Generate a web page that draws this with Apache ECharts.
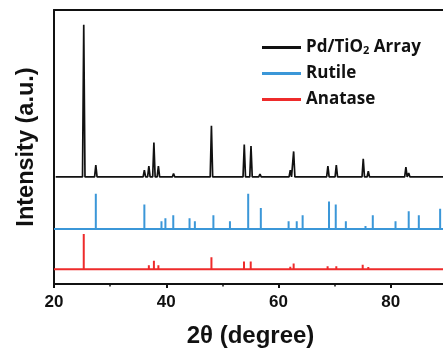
<!DOCTYPE html>
<html>
<head>
<meta charset="utf-8">
<script src="https://cdn.jsdelivr.net/npm/echarts@6/dist/echarts.min.js"></script>
<style>html,body{margin:0;padding:0;background:#fff;overflow:hidden;width:443px;height:353px;}#c{width:506px;height:353px;}</style>
</head>
<body>
<div id="c"></div>
<script>
// ---- data ----
const seriesNames = ['Pd/TiO2 Array', 'Rutile', 'Anatase'];
const xTickLabels = [20, 40, 60, 80];

// measured XRD pattern of Pd/TiO2 array: peak positions (2θ) and heights (a.u.)
const patternPeakPos =    [25.3, 27.45, 36.1, 36.9, 37.8, 38.6, 41.3, 44.1, 48.05, 53.9, 55.1, 56.7, 62.1, 62.7, 64.1, 68.8, 70.3, 74.1, 75.1, 76.0, 80.8, 82.7, 83.2];
const patternPeakHeight = [155, 12, 7, 11, 35, 11, 3.5, 1.5, 52, 33, 31.5, 3, 7, 26, 2, 11, 12, 2, 18.5, 6, 1.5, 10, 4];

// rutile reference card
const rutilePos =    [27.45, 36.1, 39.15, 39.85, 41.25, 44.15, 45.1, 48.4, 51.35, 54.6, 56.85, 61.8, 63.25, 64.3, 69.0, 70.2, 72.0, 75.5, 76.8, 80.85, 83.2, 85.0, 88.8];
const rutileHeight = [36, 25, 8, 11, 14, 11, 8, 14, 8, 36, 21.5, 8, 8, 14, 28, 25, 8, 3, 14, 8, 18, 14, 20.5];

// anatase reference card
const anatasePos =    [25.3, 36.9, 37.8, 38.6, 48.05, 53.85, 55.05, 62.1, 62.7, 68.75, 70.3, 74.0, 75.0, 76.0, 82.6, 83.2];
const anataseHeight = [36, 4, 8.7, 4, 12.3, 8, 8, 2.5, 6, 3, 3, 1.5, 4.7, 2.3, 2, 2];

// vertical stacking offsets of the three traces (a.u.)
const patternOffset = 109;
const rutileOffset = 56;
const anataseOffset = 15;

// ---- build series data ----
const X_MIN = 20, X_MAX = 100, Y_MAX = 279;
function profile(pos, h, off, start, halfW) {
  const pts = [[start, off]];
  pos.forEach((p, i) => {
    pts.push([p - halfW, off]);
    pts.push([p, off + h[i]]);
    pts.push([p + halfW, off]);
  });
  pts.push([X_MAX, off]);
  return pts;
}
const patternData = profile(patternPeakPos, patternPeakHeight, patternOffset, 20.3, 0.22);
const rutileData = profile(rutilePos, rutileHeight, rutileOffset, X_MIN, 0);
const anataseData = profile(anatasePos, anataseHeight, anataseOffset, X_MIN, 0);

const chart = echarts.init(document.getElementById('c'));
const txt = '#111';
const font = 'Arial, "Liberation Sans", sans-serif';
const lfont = '"Open Sans", Arial, sans-serif';
chart.setOption({
  backgroundColor: '#fff',
  animation: false,
  grid: { left: 54, right: 0, top: 10, bottom: 64 },
  legend: {
    orient: 'vertical',
    left: 257, top: 33,
    icon: 'rect', itemWidth: 39, itemHeight: 3, itemGap: 9,
    data: seriesNames,
    formatter: n => n === 'Pd/TiO2 Array' ? 'Pd/TiO{sub|2} Array' : n,
    textStyle: {
      fontFamily: lfont, fontWeight: 'bold', fontSize: 17, color: txt, lineHeight: 17,
      rich: { sub: { fontFamily: lfont, fontWeight: 'bold', fontSize: 11, color: txt, verticalAlign: 'bottom', lineHeight: 11, padding: [7,0,0,0] } }
    }
  },
  xAxis: [{
    type: 'value', min: X_MIN, max: X_MAX, interval: 20,
    name: '2θ (degree)', nameLocation: 'middle', nameGap: 40,
    nameTextStyle: { fontFamily: font, fontWeight: 'bold', fontSize: 24, color: txt, padding: [0, 56, 0, 0] },
    axisLine: { lineStyle: { color: txt, width: 2 } },
    axisTick: { show: true, length: 4, lineStyle: { color: txt, width: 2 } },
    minorTick: { show: true, splitNumber: 2, length: 2.5, lineStyle: { color: txt, width: 1.5 } },
    axisLabel: { margin: 10, fontFamily: font, fontWeight: 'bold', fontSize: 17, color: txt,
      formatter: v => xTickLabels.includes(v) ? String(v) : '' },
    splitLine: { show: false }
  }, {
    type: 'value', position: 'top', min: X_MIN, max: X_MAX,
    axisLine: { show: true, lineStyle: { color: txt, width: 2 } },
    axisTick: { show: false }, axisLabel: { show: false }, splitLine: { show: false }
  }],
  yAxis: {
    type: 'value', min: 0, max: Y_MAX,
    name: 'Intensity (a.u.)', nameLocation: 'middle', nameGap: 15,
    nameTextStyle: { fontFamily: font, fontWeight: 'bold', fontSize: 23.5, color: txt },
    axisLine: { show: true, lineStyle: { color: txt, width: 2 } },
    axisTick: { show: false }, axisLabel: { show: false }, splitLine: { show: false }
  },
  series: [
    { name: seriesNames[0], type: 'line', data: patternData, showSymbol: false, z: 3,
      color: '#111', lineStyle: { color: '#111', width: 1.7 } },
    { name: seriesNames[1], type: 'line', data: rutileData, showSymbol: false,
      color: '#3b97d8', lineStyle: { color: '#3b97d8', width: 2 } },
    { name: seriesNames[2], type: 'line', data: anataseData, showSymbol: false,
      color: '#ee2b2b', lineStyle: { color: '#ee2b2b', width: 2 } }
  ]
});
</script>
</body>
</html>
